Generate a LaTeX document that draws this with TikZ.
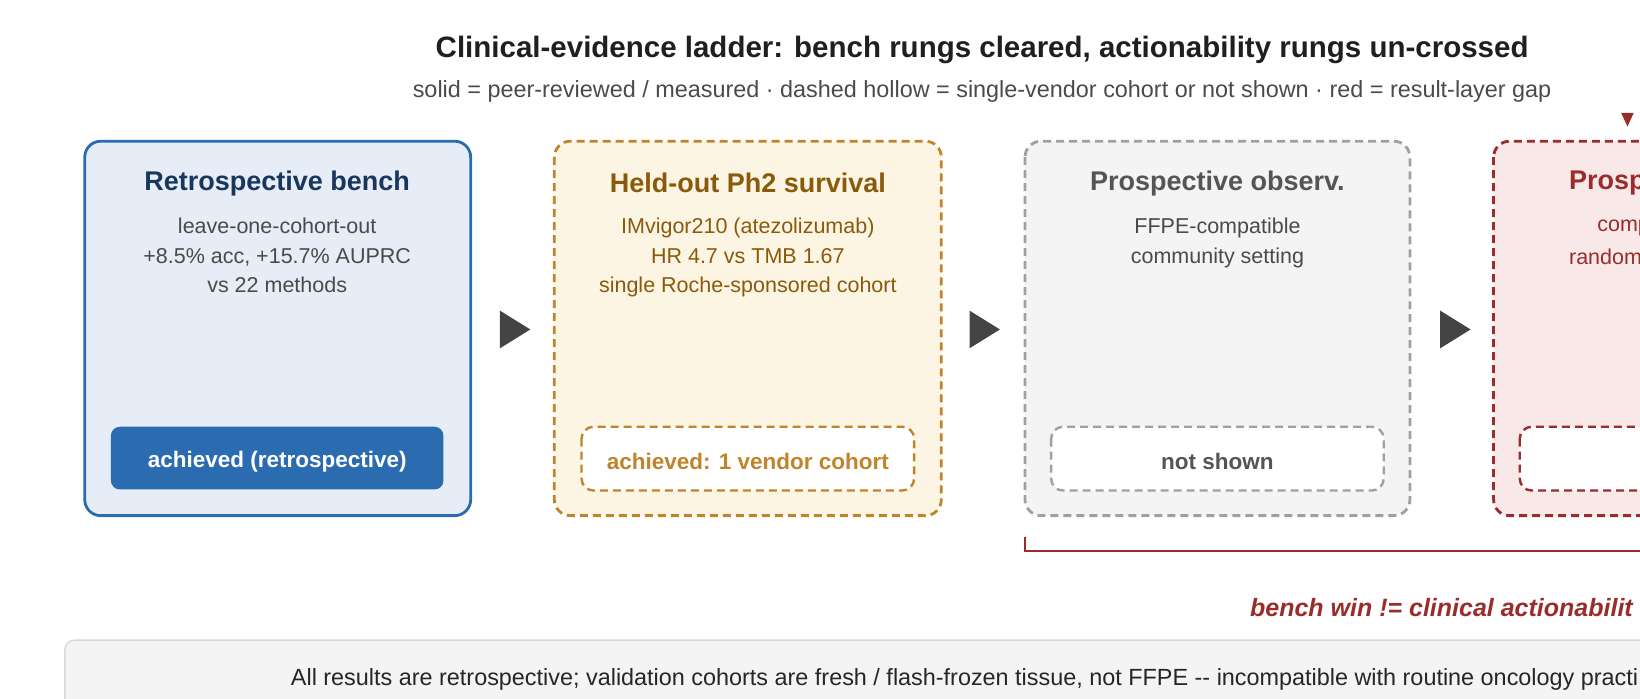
\documentclass[tikz,border=0pt]{standalone}
\usepackage{fontspec}
\setmainfont{Liberation Sans}
\begin{document}
\begin{tikzpicture}[x=1.046pt,y=-1.046pt,
  box/.style={rounded corners=16pt,line width=2.8pt},
  badge/.style={rounded corners=12pt,line width=2.4pt},
  dsh/.style={dash pattern=on 8pt off 5pt},
  ttl/.style={font=\fontsize{27}{27}\selectfont\bfseries},
  bdy/.style={font=\fontsize{21.5}{29.5}\selectfont,align=center,anchor=north},
  btx/.style={font=\fontsize{22.5}{22.5}\selectfont\bfseries}]
\definecolor{bB}{HTML}{2B6CB0}\definecolor{bF}{HTML}{E6EDF6}\definecolor{bT}{HTML}{1A365D}
\definecolor{oB}{HTML}{C0842A}\definecolor{oF}{HTML}{FDF5E3}\definecolor{oT}{HTML}{8A5A0C}
\definecolor{gB}{HTML}{A0A0A0}\definecolor{gF}{HTML}{F4F4F4}\definecolor{gT}{HTML}{555555}
\definecolor{rB}{HTML}{9B2C2C}\definecolor{rF}{HTML}{F8E8E8}
\definecolor{txt}{HTML}{4A4A4A}\definecolor{arr}{HTML}{444444}
\useasboundingbox (0,0) rectangle (1568,668);
\clip (0,0) rectangle (1568,668);
\node[font=\fontsize{29.5}{29.5}\selectfont\bfseries,text=black!88] (title) at (939,48) {Clinical-evidence ladder: bench rungs cleared, actionability rungs un-crossed};
\node[font=\fontsize{23.4}{23.4}\selectfont,text=txt] (sub) at (939,87) {solid = peer-reviewed / measured · dashed hollow = single-vendor cohort or not shown · red = result-layer gap};
% box 1
\draw[box,draw=bB,fill=bF] (81,135) rectangle (450,493);
\node[ttl,text=bT] (t1) at (265,175) {Retrospective bench};
\node[bdy,text=txt] (d1) at (265,205) {leave-one-cohort-out\\+8.5\% acc, +15.7\% AUPRC\\vs 22 methods};
\draw[rounded corners=9pt,fill=bB,draw=none] (106,408) rectangle (424,468);
\node[btx,text=white] (a1) at (265,441) {achieved (retrospective)};
% box 2
\draw[box,dsh,draw=oB,fill=oF] (530,135) rectangle (900,493);
\node[ttl,text=oT] (t2) at (715,175) {Held-out Ph2 survival};
\node[bdy,text=oT] (d2) at (715,205) {IMvigor210 (atezolizumab)\\HR 4.7 vs TMB 1.67\\single Roche-sponsored cohort};
\draw[badge,dsh,draw=oB,fill=white] (556,408) rectangle (874,469);
\node[btx,text=oB] (a2) at (715,441) {achieved: 1 vendor cohort};
% box 3
\draw[box,dsh,draw=gB,fill=gF] (980,135) rectangle (1348,493);
\node[ttl,text=gT] (t3) at (1164,175) {Prospective observ.};
\node[bdy,text=txt] (d3) at (1164,205) {FFPE-compatible\\community setting};
\draw[badge,dsh,draw=gB,fill=white] (1005,408) rectangle (1323,469);
\node[btx,text=gT] (a3) at (1164,441) {not shown};
% box 4
\draw[box,dsh,draw=rB,fill=rF] (1428,135) rectangle (1797,493);
\node[ttl,text=rB,anchor=west,inner sep=0] (t4) at (1500,175) {Prosp};
\node[font=\fontsize{21.5}{21.5}\selectfont,text=rB,anchor=west,inner sep=0] (d4a) at (1527,218) {comp};
\node[font=\fontsize{21.5}{21.5}\selectfont,text=rB,anchor=west,inner sep=0] (d4b) at (1500,246) {random};
\draw[badge,dsh,draw=rB,fill=white] (1453,408) rectangle (1771,469);
\node[btx,text=rB,anchor=west,inner sep=0] (a4) at (1613,441) {un};
% arrows
\foreach \x in {478,927,1377}{\fill[arr] (\x,297) -- (\x+29,315) -- (\x,333) -- cycle;}
\fill[rB] (1550,108) -- (1562,108) -- (1556,121) -- cycle;
% bracket
\coordinate (bl) at (980,513);
\coordinate (bc) at (980,527);
\coordinate (br) at (1700,527);
\draw[rB,line width=2pt] (bl) -- (bc) -- (br);
\node[font=\fontsize{25}{25}\selectfont\bfseries\itshape,text=rB,anchor=west,inner sep=0] (gap) at (1195,581) {bench win != clinical actionabilit};
% bottom note
\draw[rounded corners=10pt,fill=gF,draw=black!15,line width=1.5pt] (62,612) rectangle (1760,760);
\node[font=\fontsize{23.4}{23.4}\selectfont,text=black!85,anchor=west,inner sep=0] (note) at (278,650) {All results are retrospective; validation cohorts are fresh / flash-frozen tissue, not FFPE -{}- incompatible with routine oncology practi};
\end{tikzpicture}
\end{document}
